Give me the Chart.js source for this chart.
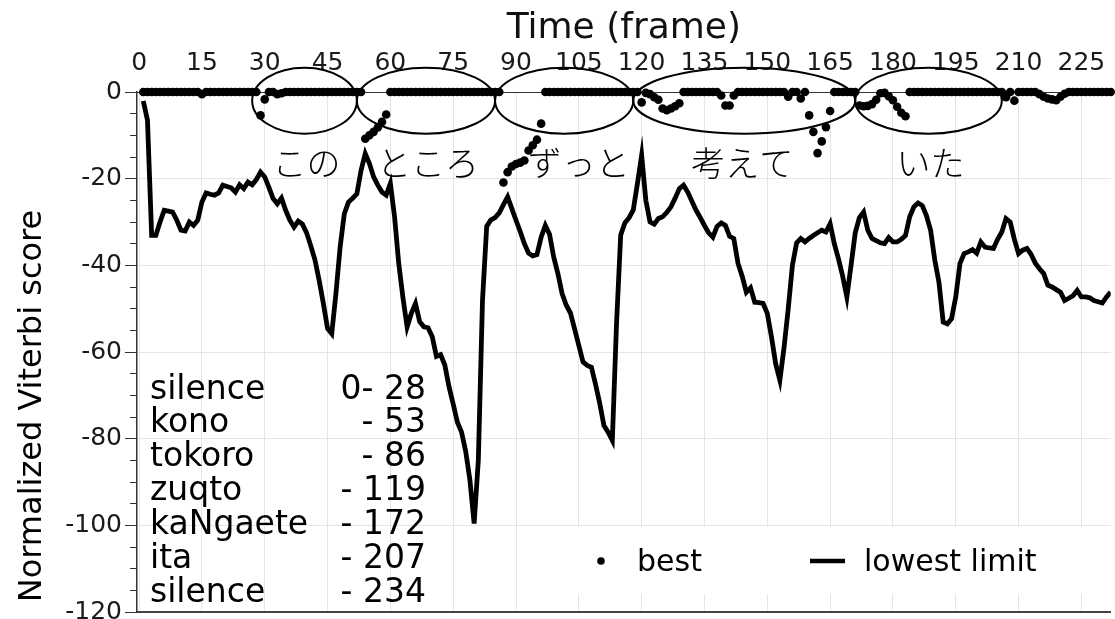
<!DOCTYPE html>
<html lang="ja">
<head>
<meta charset="utf-8" />
<title>Normalized Viterbi score</title>
<script src="https://cdn.jsdelivr.net/npm/chart.js@4.4.1/dist/chart.umd.min.js"></script>
<style>
  html, body { margin: 0; padding: 0; background: #fff; }
  #wrap { width: 1115px; height: 619px; position: relative; }
</style>
</head>
<body>
<div id="wrap"><canvas id="viterbi"></canvas></div>
<script>
// lowest limit, frames 1..232
const lowestLimit = [
  -2.1, -6.5, -33.1, -33.1, -30.0, -27.3, -27.5, -27.7, -29.6, -31.9,
  -32.1, -30.0, -30.8, -29.6, -25.4, -23.3, -23.6, -23.8, -23.3, -21.5,
  -21.8, -22.1, -23.1, -21.4, -22.3, -20.8, -21.4, -20.2, -18.5, -19.6,
  -22.0, -24.6, -25.8, -24.5, -27.3, -29.6, -31.2, -29.8, -30.5, -32.5,
  -35.5, -38.8, -43.5, -48.8, -54.6, -55.8, -46.5, -35.8, -28.1, -25.4,
  -24.5, -23.5, -18.1, -14.2, -16.5, -19.6, -21.5, -23.1, -23.8, -21.1,
  -28.8, -39.6, -47.5, -54.2, -51.1, -48.8, -53.0, -54.2, -54.4, -56.5,
  -61.0, -60.6, -63.0, -68.0, -72.0, -76.2, -78.5, -83.0, -89.6, -99.6,
  -85.0, -48.0, -31.0, -29.5, -29.0, -27.9, -26.0, -24.2, -26.9, -29.6,
  -32.2, -35.0, -37.2, -37.8, -37.5, -33.5, -30.8, -32.8, -38.1, -41.9,
  -46.5, -49.2, -51.0, -54.7, -58.5, -62.3, -63.1, -63.5, -67.5, -71.9,
  -77.0, -78.5, -80.4, -53.5, -33.0, -30.2, -29.0, -27.2, -21.1, -14.6,
  -25.0, -30.0, -30.5, -29.2, -28.8, -27.8, -26.5, -24.5, -22.3, -21.5,
  -23.1, -25.2, -27.3, -29.0, -30.8, -32.5, -33.5, -31.0, -30.2, -30.8,
  -33.3, -33.8, -39.5, -42.5, -46.2, -45.2, -48.5, -48.6, -48.8, -51.1,
  -56.5, -62.7, -66.5, -59.0, -50.0, -40.0, -34.8, -33.8, -34.6, -33.8,
  -33.1, -32.5, -31.9, -32.3, -30.4, -35.0, -38.5, -42.5, -47.3, -40.0,
  -32.5, -29.0, -27.7, -31.9, -33.8, -34.3, -34.8, -35.0, -33.6, -34.6,
  -34.6, -34.0, -33.1, -28.8, -26.5, -25.6, -26.2, -28.5, -31.9, -38.8,
  -44.0, -53.1, -53.5, -52.3, -47.3, -39.6, -37.3, -36.9, -36.4, -37.2,
  -34.6, -35.8, -36.0, -36.1, -34.0, -32.3, -29.2, -30.0, -34.0, -37.3,
  -36.5, -36.1, -37.5, -39.5, -40.8, -41.9, -44.6, -45.0, -45.6, -46.2,
  -48.1, -47.6, -47.0, -45.8, -47.3, -47.3, -47.5, -48.1, -48.4, -48.7,
  -47.3, -46.2
];

// best path score, frames 1..232
const best = [
  0, 0, 0, 0, 0, 0, 0, 0, 0, 0,
  0, 0, 0, 0, -0.5, 0, 0, 0, 0, 0,
  0, 0, 0, 0, 0, 0, 0, 0, -5.4, -1.7,
  0, 0, -0.5, -0.3, 0, 0, 0, 0, 0, 0,
  0, 0, 0, 0, 0, 0, 0, 0, 0, 0,
  0, 0, 0, -10.8, -10.0, -9.2, -8.2, -6.9, -5.2, 0,
  0, 0, 0, 0, 0, 0, 0, 0, 0, 0,
  0, 0, 0, 0, 0, 0, 0, 0, 0, 0,
  0, 0, 0, 0, 0, 0, -20.9, -18.5, -17.2, -16.6,
  -16.3, -15.8, -13.5, -12.3, -11.0, -7.3, 0, 0, 0, 0,
  0, 0, 0, 0, 0, 0, 0, 0, 0, 0,
  0, 0, 0, 0, 0, 0, 0, 0, 0, -2.4,
  -0.2, -0.5, -1.2, -1.8, -3.8, -4.2, -3.8, -3.3, -2.6, 0,
  0, 0, 0, 0, 0, 0, 0, 0, -0.8, -3.1,
  -3.1, -0.8, 0, 0, 0, 0, 0, 0, 0, 0,
  0, 0, 0, 0, -1.1, 0, 0, -1.5, 0, -5.4,
  -9.2, -14.1, -11.4, -8.1, -4.4, 0, 0, 0, 0, 0,
  0, -3.1, -3.3, -3.2, -2.8, -1.8, -0.3, -0.2, -1.0, -1.9,
  -3.4, -4.8, -5.6, 0, 0, 0, 0, 0, 0, 0,
  0, 0, 0, 0, 0, 0, 0, 0, 0, 0,
  0, 0, 0, 0, 0, 0, -1.2, 0, -2.0, 0,
  0, 0, 0, 0, -0.5, -1.1, -1.5, -1.7, -1.9, -1.1,
  -0.4, 0, 0, 0, 0, 0, 0, 0, 0, 0,
  0, 0
];

// word segmentation (end frame of each segment)
const segWords = ["silence", "kono", "tokoro", "zuqto", "kaNgaete", "ita", "silence"];
const segEnds = [28, 53, 86, 119, 172, 207, 234];
const kanaWords = ["この", "ところ", "ずっと", "考えて", "いた"];
const kanaAt = [40, 69, 105, 144, 189]; // frame where each word label sits

const toPoints = arr => arr.map((v, i) => ({ x: i + 1, y: v }));

Chart.defaults.font.family = "'DejaVu Sans', sans-serif";
Chart.defaults.color = "#1a1a1a";

const GRID = "#e9e4e2";

const annotations = {
  id: "annotations",
  afterDraw(chart) {
    const { ctx, scales: { x, y } } = chart;
    ctx.save();

    // ellipses round each word
    ctx.strokeStyle = "#000";
    ctx.lineWidth = 2;
    const cy = y.getPixelForValue(-2);
    for (let i = 1; i <= kanaWords.length; i++) {
      const x0 = x.getPixelForValue(segEnds[i - 1] - 1);
      const x1 = x.getPixelForValue(segEnds[i] - 1);
      ctx.beginPath();
      ctx.ellipse((x0 + x1) / 2, cy, (x1 - x0) / 2, 33, 0, 0, Math.PI * 2);
      ctx.stroke();
    }

    // japanese word labels
    ctx.fillStyle = "#000";
    ctx.font = "300 34px 'Noto Sans CJK JP'";
    ctx.textAlign = "center";
    ctx.textBaseline = "middle";
    kanaWords.forEach((w, i) => {
      ctx.fillText(w, x.getPixelForValue(kanaAt[i]), y.getPixelForValue(-16.5));
    });

    // segment table
    ctx.font = "33px 'DejaVu Sans'";
    ctx.textBaseline = "alphabetic";
    segWords.forEach((w, i) => {
      const by = 398.5 + i * 33.9;
      ctx.textAlign = "left";
      ctx.fillText(w, 150, by);
      ctx.textAlign = "right";
      ctx.fillText((i === 0 ? "0- " : "- ") + segEnds[i], 426, by);
    });

    // legend
    ctx.fillStyle = "#fff";
    ctx.fillRect(545, 527, 562, 67);
    ctx.fillStyle = "#000";
    ctx.beginPath();
    ctx.arc(601, 561, 3.8, 0, Math.PI * 2);
    ctx.fill();
    ctx.font = "30px 'DejaVu Sans'";
    ctx.textAlign = "left";
    ctx.fillText("best", 637, 571);
    ctx.lineWidth = 4.5;
    ctx.beginPath();
    ctx.moveTo(810, 561);
    ctx.lineTo(845, 561);
    ctx.stroke();
    ctx.fillText("lowest limit", 864, 571);

    // y axis title
    ctx.translate(41, 406);
    ctx.rotate(-Math.PI / 2);
    ctx.font = "32px 'DejaVu Sans'";
    ctx.textAlign = "center";
    ctx.fillText("Normalized Viterbi score", 0, 0);

    ctx.restore();
  }
};

new Chart(document.getElementById("viterbi"), {
  type: "line",
  data: {
    datasets: [
      {
        type: "scatter",
        label: "best",
        data: toPoints(best),
        xAxisID: "x",
        yAxisID: "y",
        pointRadius: 4.3,
        pointBackgroundColor: "#000",
        pointBorderWidth: 0,
        clip: false
      },
      {
        label: "lowest limit",
        data: toPoints(lowestLimit),
        xAxisID: "x",
        yAxisID: "y",
        borderColor: "#000",
        borderWidth: 4.8,
        pointRadius: 0,
        tension: 0,
        fill: false
      }
    ]
  },
  options: {
    responsive: true,
    maintainAspectRatio: false,
    devicePixelRatio: 1,
    animation: false,
    events: [],
    layout: { padding: 0 },
    plugins: {
      legend: { display: false },
      tooltip: { enabled: false }
    },
    scales: {
      x: {
        type: "linear",
        position: "top",
        min: -0.5,
        max: 232,
        ticks: {
          stepSize: 15,
          includeBounds: false,
          autoSkip: false,
          maxRotation: 0,
          padding: 14,
          font: { size: 25 }
        },
        grid: { color: GRID, drawTicks: false },
        border: { color: "#333", width: 1 },
        title: {
          display: true,
          text: "Time (frame)",
          font: { size: 36 },
          color: "#111",
          padding: { top: 7, bottom: 0 }
        },
        afterFit(s) { s.height = 92; s.paddingLeft = 0; s.paddingRight = 0; }
      },
      xBase: {
        type: "linear",
        position: "bottom",
        min: -0.5,
        max: 232,
        ticks: { display: false },
        grid: { display: false },
        border: { color: "#444", width: 2 },
        afterFit(s) { s.height = 7; s.paddingLeft = 0; s.paddingRight = 0; }
      },
      y: {
        type: "linear",
        position: "left",
        weight: 1,
        min: -120,
        max: 0,
        ticks: { stepSize: 20, padding: 3, font: { size: 25 } },
        grid: { color: GRID, tickColor: "#333", tickLength: 12 },
        border: { color: "#333", width: 1.5 },
        afterFit(s) { s.width = 137; s.paddingTop = 0; s.paddingBottom = 0; }
      },
      yMinor: {
        type: "linear",
        position: "left",
        weight: 0,
        min: -120,
        max: 0,
        ticks: { display: false, stepSize: 5 },
        grid: { drawOnChartArea: false, color: "#333", tickLength: 7 },
        border: { display: false },
        afterFit(s) { s.width = 0; s.paddingTop = 0; s.paddingBottom = 0; }
      }
    }
  },
  plugins: [annotations]
});
</script>
</body>
</html>
